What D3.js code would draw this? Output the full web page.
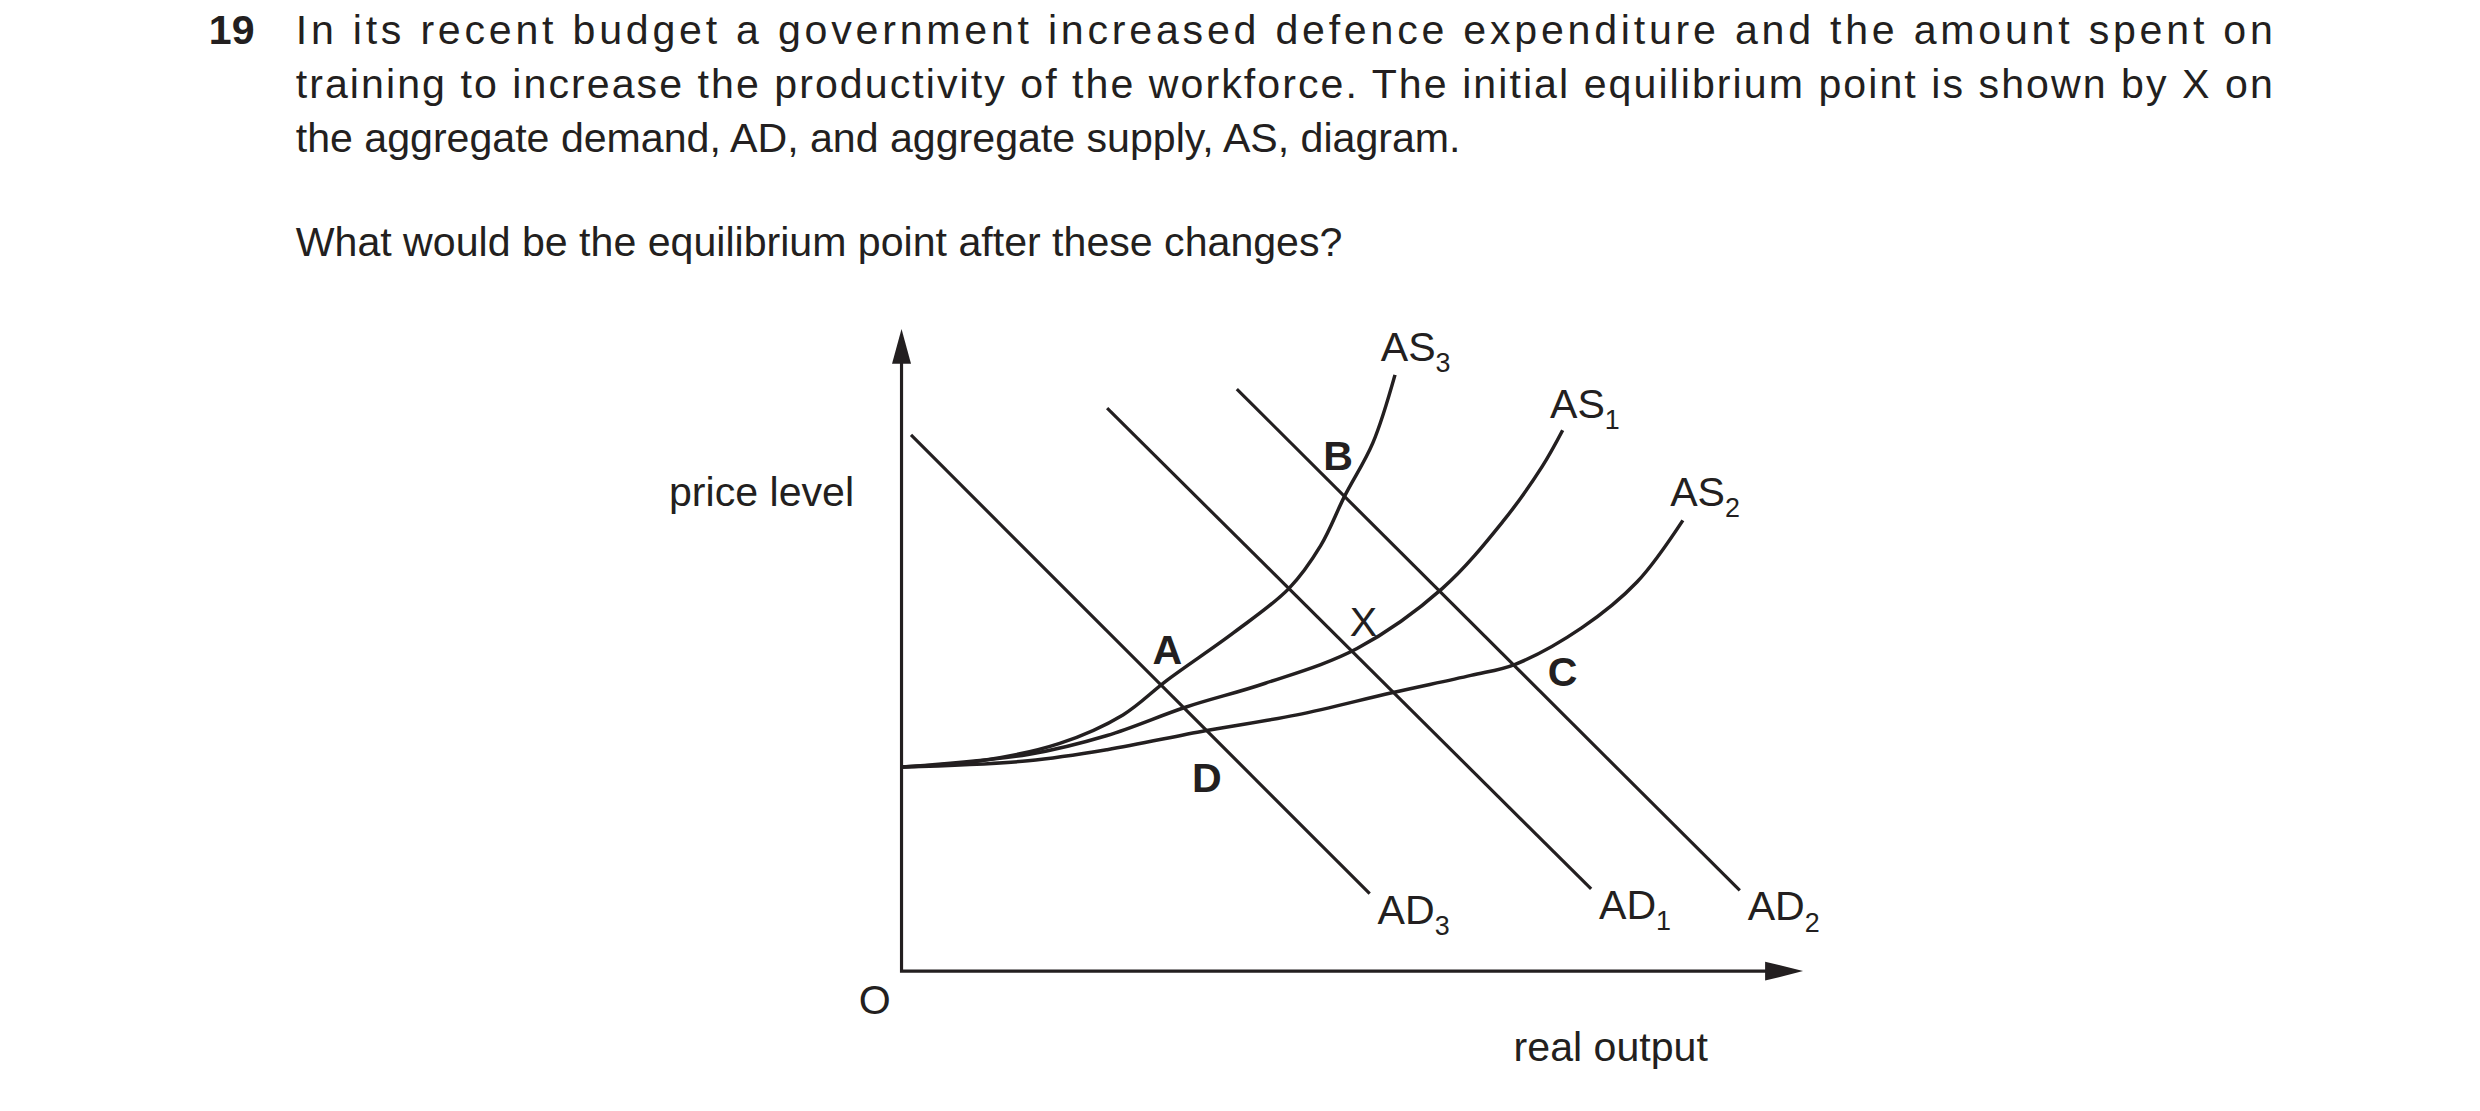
<!DOCTYPE html>
<html><head><meta charset="utf-8">
<script src="https://cdn.jsdelivr.net/npm/d3@7"></script>
<style>body{margin:0;background:#fff}text{font-family:"Liberation Sans",Arial,sans-serif;fill:#231f20}</style>
</head><body>
<svg id="c" width="2480" height="1111"></svg>
<script>
// curves in output/price units (origin at O)
const as3 = [[0,129],[50,133],[100,144],[140,162],[168,184],[210,214],[245,242],[265,269],[280,300],[298,334],[312,377]];
const as1 = [[0,129],[80,137],[130,149],[180,167],[230,182],[288,204],[342,242],[380,284],[405,319],[418,342]];
const as2 = [[0,129],[80,133],[130,140],[192,152],[250,162],[310,176],[360,187],[388,194],[430,217],[465,246],[494,285]];
const adLines = [
  {name: "AD", sub: "3", from: [6,339], to: [296,49]},
  {name: "AD", sub: "1", from: [130,356], to: [436,52]},
  {name: "AD", sub: "2", from: [212,368], to: [530,51]}
];
const asLabels = [{name: "AS", sub: "3", at: [303,386]}, {name: "AS", sub: "1", at: [410,350]}, {name: "AS", sub: "2", at: [486,294]}];
const points = [{t: "A", at: [168,194], b: true}, {t: "B", at: [276,317], b: true}, {t: "C", at: [418,180], b: true},
  {t: "D", at: [193,113], b: true}, {t: "X", at: [292,212], b: false}];
const questionLines = [
  "In its recent budget a government increased defence expenditure and the amount spent on",
  "training to increase the productivity of the workforce. The initial equilibrium point is shown by X on",
  "the aggregate demand, AD, and aggregate supply, AS, diagram."
];

const k = 2480 / 1568;
const svg = d3.select("#c");
const g = svg.append("g").attr("transform", `scale(${k})`);

// question text
g.append("text").attr("x", 132).attr("y", 28).attr("font-size", 26).attr("font-weight", "bold").text("19");
questionLines.forEach((s, i) => {
  const t = g.append("text").attr("x", 187).attr("y", 28 + i * 34).attr("font-size", 26).text(s);
  if (i < 2) t.attr("textLength", 1250).attr("lengthAdjust", "spacing");
});
g.append("text").attr("x", 187).attr("y", 162).attr("font-size", 26).text("What would be the equilibrium point after these changes?");

const x = d3.scaleLinear().domain([0, 570]).range([570, 1140]);
const y = d3.scaleLinear().domain([0, 406]).range([614, 208]);

// axes
g.append("path").attr("d", `M${x(0)},${y(390)}V${y(0)}H${x(548)}`).attr("fill", "none").attr("stroke", "#231f20").attr("stroke-width", 2);
g.append("path").attr("d", `M${x(0)},${y(406)}l-6,22h12z`).attr("fill", "#231f20");
g.append("path").attr("d", `M${x(570)},${y(0)}l-24,-6v12z`).attr("fill", "#231f20");

const line = d3.line().x(d => x(d[0])).y(d => y(d[1])).curve(d3.curveCatmullRom);
[as3, as1, as2].forEach(c => g.append("path").attr("d", line(c)).attr("fill", "none").attr("stroke", "#231f20").attr("stroke-width", 2.2));
adLines.forEach(a => g.append("line").attr("x1", x(a.from[0])).attr("y1", y(a.from[1])).attr("x2", x(a.to[0])).attr("y2", y(a.to[1]))
  .attr("stroke", "#231f20").attr("stroke-width", 2));

function subLabel(px, py, name, sub) {
  const t = g.append("text").attr("x", px).attr("y", py).attr("font-size", 26);
  t.append("tspan").text(name);
  t.append("tspan").attr("dy", 7).attr("font-size", 17).text(sub);
}
adLines.forEach(a => subLabel(x(a.to[0]) + 5, y(a.to[1]) + 19, a.name, a.sub));
asLabels.forEach(a => subLabel(x(a.at[0]), y(a.at[1]), a.name, a.sub));
points.forEach(p => g.append("text").attr("x", x(p.at[0])).attr("y", y(p.at[1])).attr("font-size", 26)
  .attr("text-anchor", "middle").attr("font-weight", p.b ? "bold" : "normal").text(p.t));

g.append("text").attr("x", 540).attr("y", 320).attr("font-size", 26).attr("text-anchor", "end").text("price level");
g.append("text").attr("x", 553).attr("y", 641).attr("font-size", 26).attr("text-anchor", "middle").text("O");
g.append("text").attr("x", 957).attr("y", 671).attr("font-size", 26).text("real output");
</script>
</body></html>
